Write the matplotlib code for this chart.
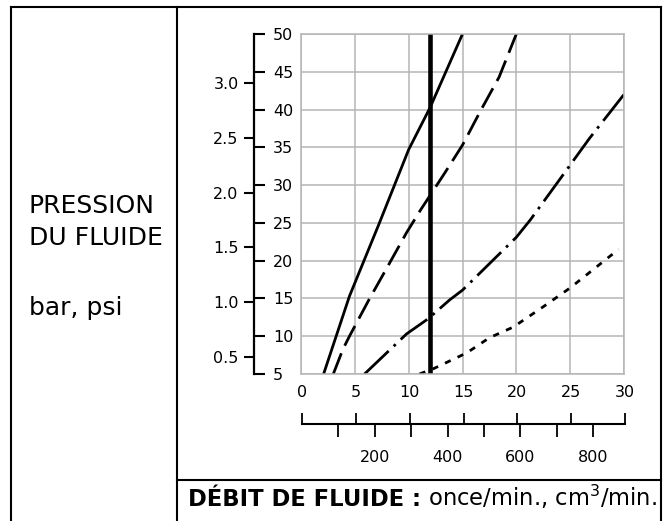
import matplotlib
matplotlib.use("Agg")
import matplotlib.pyplot as plt
from matplotlib.lines import Line2D

plt.rcParams["font.family"] = ["DejaVu Sans"]
plt.rcParams["lines.scale_dashes"] = False

# ---- data -------------------------------------------------------------
oz_ticks = [0, 5, 10, 15, 20, 25, 30]
psi_ticks = [5, 10, 15, 20, 25, 30, 35, 40, 45, 50]
bar_ticks = [0.5, 1.0, 1.5, 2.0, 2.5, 3.0]
bar_labels = ["0.5", "1.0", "1.5", "2.0", "2.5", "3.0"]
cc_ticks = [100, 200, 300, 400, 500, 600, 700, 800]
cc_labels = ["", "200", "", "400", "", "600", "", "800"]

PSI_PER_BAR = 14.5038
CC_PER_OZ = 29.5735

# flow (oz/min) vs fluid pressure (psi)
solid_x = [2.1, 4.5, 7.2, 10.0, 12.0, 15.0]
solid_y = [5.0, 15.3, 24.7, 34.7, 40.3, 50.0]

dashed_x = [3.0, 3.9, 4.5, 6.3, 8.0, 9.8, 11.1, 13.35, 15.0, 16.7, 18.4, 20.0]
dashed_y = [5.0, 8.3, 10.0, 14.8, 19.1, 23.7, 26.7, 31.6, 35.3, 39.9, 44.3, 50.0]

dashdot_x = [5.9, 9.8, 11.8, 13.8, 15.0, 20.0, 21.3, 23.8, 26.8, 30.0]
dashdot_y = [5.0, 10.3, 12.3, 14.8, 16.1, 23.1, 25.4, 30.3, 36.2, 42.0]

dotted_x = [11.0, 12.3, 15.4, 17.5, 19.7, 22.5, 25.0, 29.5]
dotted_y = [5.0, 5.7, 7.8, 9.8, 11.2, 13.9, 16.4, 21.5]

ref_flow = 12.0

# ---- figure -----------------------------------------------------------
W, H = 666, 521
fig = plt.figure(figsize=(W / 100, H / 100), dpi=100)


def fx(px):
    return px / W


def fy(py):
    return 1 - py / H


# table frame
frame_kw = dict(color="black", lw=1.5, transform=fig.transFigure)
fig.add_artist(Line2D([fx(11), fx(661)], [fy(7), fy(7)], **frame_kw))
fig.add_artist(Line2D([fx(11), fx(11)], [fy(7), fy(521)], **frame_kw))
fig.add_artist(Line2D([fx(177), fx(177)], [fy(7), fy(521)], **frame_kw))
fig.add_artist(Line2D([fx(661), fx(661)], [fy(7), fy(521)], **frame_kw))
fig.add_artist(Line2D([fx(177), fx(661)], [fy(480), fy(480)], **frame_kw))

# main chart
x0, x1, ytop, ybot = 301, 624, 34, 374
ax = fig.add_axes([fx(x0), fy(ybot), (x1 - x0) / W, (ybot - ytop) / H])
ax.set_xlim(0, 30)
ax.set_ylim(5, 50)
ax.set_xticks(oz_ticks)
ax.set_yticks(psi_ticks)
ax.tick_params(length=0, labelbottom=False, labelleft=False)
ax.grid(True, color="#b5b5b5", lw=1.1)
for s in ax.spines.values():
    s.set_color("#b5b5b5")
    s.set_linewidth(1.1)

lw = 2.0
ax.plot(solid_x, solid_y, color="black", lw=lw, solid_capstyle="butt")
ax.plot(dashed_x, dashed_y, color="black", lw=lw, linestyle=(0, (16, 6)))
ax.plot(dashdot_x, dashdot_y, color="black", lw=lw,
        linestyle=(0, (24, 5, 2, 5)))
ax.plot(dotted_x, dotted_y, color="black", lw=lw, linestyle=(0, (4.5, 5.5)))
ax.axvline(ref_flow, color="black", lw=3.3)

# pressure scale: psi on the right of the spine, bar on the left
ax_p = fig.add_axes([fx(254), fy(ybot), 1e-6, (ybot - ytop) / H])
ax_b = ax_p.twinx()
ax_p.set_ylim(5, 50)
ax_p.set_xticks([])
for k in ("left", "top", "bottom"):
    ax_p.spines[k].set_visible(False)
ax_p.spines["right"].set_linewidth(1.6)
ax_p.yaxis.tick_right()
ax_p.set_yticks(psi_ticks)
ax_p.tick_params(axis="y", direction="out", length=8, width=1.5, pad=5.5,
                 labelsize=11.5)
ax_p.patch.set_visible(False)

ax_b.set_ylim(5 / PSI_PER_BAR, 50 / PSI_PER_BAR)
for s in ax_b.spines.values():
    s.set_visible(False)
ax_b.yaxis.tick_left()
ax_b.set_yticks(bar_ticks)
ax_b.set_yticklabels(bar_labels)
ax_b.tick_params(axis="y", direction="out", length=7, width=1.5, pad=4,
                 labelsize=11.5)

# flow scale: oz/min above the line, cm3/min below
ax_f = fig.add_axes([fx(302), fy(424), (625 - 302) / W, 1e-6])
ax_c = ax_f.twiny()
ax_f.set_xlim(0, 30)
ax_f.set_yticks([])
for k in ("left", "right", "bottom"):
    ax_f.spines[k].set_visible(False)
ax_f.spines["top"].set_linewidth(1.5)
ax_f.xaxis.tick_top()
ax_f.set_xticks(oz_ticks)
ax_f.tick_params(axis="x", direction="out", length=8, width=1.3, pad=9.5,
                 labelsize=11.5)
ax_f.patch.set_visible(False)

ax_c.set_xlim(0, 30 * CC_PER_OZ)
for s in ax_c.spines.values():
    s.set_visible(False)
ax_c.xaxis.tick_bottom()
ax_c.set_xticks(cc_ticks)
ax_c.set_xticklabels(cc_labels)
ax_c.tick_params(axis="x", direction="out", length=9.5, width=1.3, pad=9,
                 labelsize=11.5)

# left column captions
cap_kw = dict(fontsize=18, va="baseline", ha="left")
fig.text(fx(29), fy(213), "PRESSION", **cap_kw)
fig.text(fx(29), fy(245), "DU FLUIDE", **cap_kw)
fig.text(fx(29), fy(315), "bar, psi", **cap_kw)

# bottom caption: bold lead-in followed by units
t1 = fig.text(fx(188), fy(506), "DÉBIT DE FLUIDE :", fontsize=16.3,
              fontweight="bold", va="baseline", ha="left")
renderer = fig.canvas.get_renderer()
bb = t1.get_window_extent(renderer)
fig.text(bb.x1 / fig.bbox.width, fy(506), " once/min., cm$^3$/min.",
         fontsize=16.3, va="baseline", ha="left")

fig.savefig("out.png", dpi=100)
